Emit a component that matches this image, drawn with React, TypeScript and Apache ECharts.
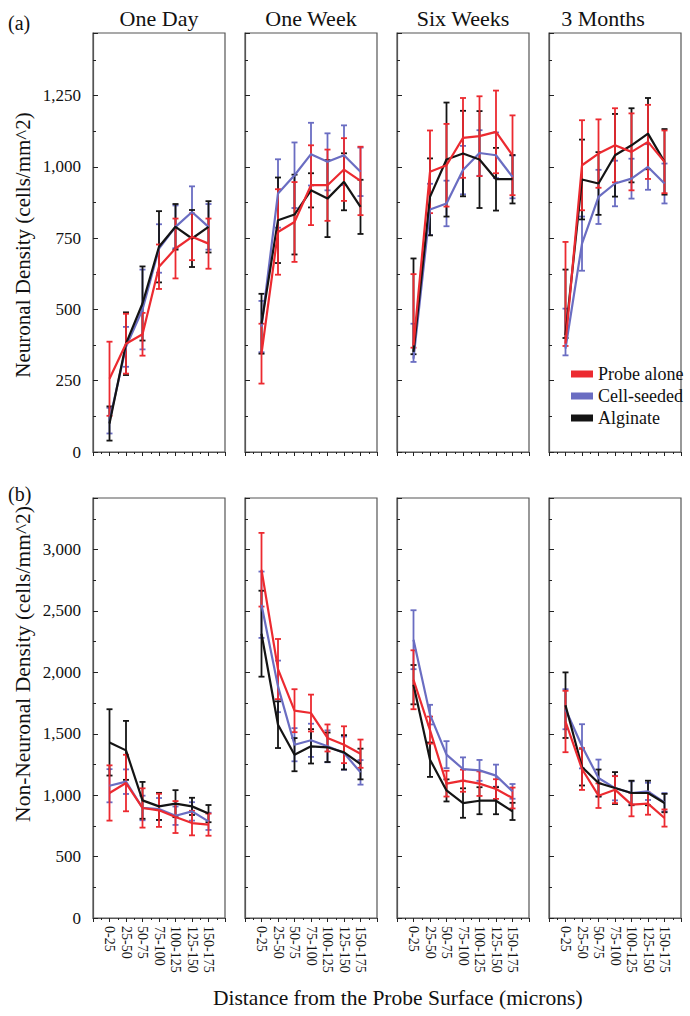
import React, { useEffect, useRef } from "react";
import * as echarts from "echarts";

const categories = ["0-25", "25-50", "50-75", "75-100", "100-125", "125-150", "150-175"];
const panelTitles = ["One Day", "One Week", "Six Weeks", "3 Months"];
const seriesNames = ["Probe alone", "Cell-seeded", "Alginate"];
const seriesColors = ["#ec2a30", "#6a6dc2", "#141414"];

// Error entries: a number is a symmetric error; [down, up] is an asymmetric one.
// (a) Neuronal density: one row per time point
const neuProbe = [
  [257, 380, 413, 650, 714, 755, 731],
  [345, 772, 807, 936, 936, 991, 951],
  [374, 983, 1006, 1102, 1108, 1123, 1041],
  [380, 1006, 1047, 1076, 1053, 1088, 1018],
];
const neuProbeErr: (number | number[])[][] = [
  [130, 105, 75, 78, 105, 82, 88],
  [105, 150, 140, 140, 125, 110, 120],
  [[8, 250], 145, 145, 140, 140, 145, 140],
  [[8, 357], 158, 120, 130, 135, 130, 110],
];
const neuCell = [
  [110, 369, 500, 714, 790, 842, 790],
  [440, 907, 971, 1045, 1018, 1041, 983],
  [328, 851, 872, 989, 1049, 1041, 965],
  [363, 731, 895, 942, 959, 1000, 942],
];
const neuCellErr: (number | number[])[][] = [
  [45, 70, 140, 85, 75, 90, 80],
  [90, 120, 115, 110, 100, 105, 85],
  [[12, 122], 90, 80, 85, 80, 80, 75],
  [[24, 140], 95, 95, 80, 70, 80, 70],
];
const neuAlg = [
  [100, 380, 521, 720, 790, 749, 790],
  [450, 813, 833, 918, 889, 948, 860],
  [351, 895, 1026, 1047, 1026, 957, 957],
  [410, 956, 942, 1041, 1076, 1117, 1018],
];
const neuAlgErr: (number | number[])[][] = [
  [60, 110, 130, 125, 80, 100, 90],
  [105, 150, 140, 60, 135, 100, 95],
  [[8, 328], 135, 200, 150, 170, 110, 85],
  [[10, 230], 140, 110, 145, 130, 125, 115],
];

// (b) Non-neuronal density
const nonProbe = [
  [1018, 1099, 896, 877, 822, 773, 760],
  [2836, 2027, 1688, 1669, 1466, 1411, 1338],
  [1940, 1530, 1094, 1118, 1094, 1050, 977],
  [1600, 1213, 996, 1045, 923, 931, 814],
];
const nonProbeErr: (number | number[])[][] = [
  [225, 230, 160, 135, 130, 100, 90],
  [300, 245, 175, 150, 110, 150, 115],
  [240, 110, 105, 90, 100, 80, 85],
  [250, 170, 100, 110, 95, 90, 70],
];
const nonCell = [
  [1077, 1110, 896, 887, 833, 868, 787],
  [2551, 1886, 1411, 1447, 1398, 1343, 1186],
  [2266, 1656, 1330, 1213, 1202, 1159, 1031],
  [1700, 1398, 1140, 1058, 1018, 1031, 942],
];
const nonCellErr: (number | number[])[][] = [
  [135, 100, 100, 90, 75, 75, 70],
  [270, 210, 135, 135, 130, 135, 100],
  [240, 80, 110, 95, 85, 90, 60],
  [163, 180, 150, 100, 95, 70, 75],
];
const nonAlg = [
  [1430, 1365, 958, 909, 931, 909, 850],
  [2315, 1574, 1330, 1398, 1390, 1349, 1254],
  [1900, 1289, 1039, 936, 955, 955, 868],
  [1733, 1229, 1099, 1058, 1018, 1018, 936],
];
const nonAlgErr: (number | number[])[][] = [
  [270, 240, 150, 110, 110, 70, 70],
  [350, 190, 135, 140, 120, 140, 125],
  [160, 140, 90, 120, 110, 110, 70],
  [267, 150, 110, 130, 100, 100, 75],
];

const rows = [
  { means: [neuProbe, neuCell, neuAlg], errs: [neuProbeErr, neuCellErr, neuAlgErr], max: 1470, interval: 250 },
  { means: [nonProbe, nonCell, nonAlg], errs: [nonProbeErr, nonCellErr, nonAlgErr], max: 3420, interval: 500 },
];

const FONT = "'Liberation Serif', 'Times New Roman', Times, serif";
const panelLefts = [93, 245, 397, 549];
const panelWidth = 132;
const rowTops = [33, 498];
const rowHeights = [419, 420];
const axisColor = "#555";

export default function App() {
  const ref = useRef<HTMLDivElement>(null);
  useEffect(() => {
    if (!ref.current) return;
    const chart = echarts.init(ref.current, null, { renderer: "svg" });
    const grid: any[] = [];
    const xAxis: any[] = [];
    const yAxis: any[] = [];
    const series: any[] = [];
    let idx = 0;
    rows.forEach((row, r) => {
      for (let p = 0; p < 4; p++) {
        grid.push({
          left: panelLefts[p],
          top: rowTops[r],
          width: panelWidth,
          height: rowHeights[r],
          show: true,
          borderColor: axisColor,
          borderWidth: 1.2,
          backgroundColor: "transparent",
        });
        xAxis.push({
          type: "value",
          gridIndex: idx,
          min: 0,
          max: 8,
          interval: 1,
          splitLine: { show: false },
          axisLine: { lineStyle: { color: axisColor, width: 1.2 } },
          axisTick: { show: true, length: 4, lineStyle: { color: "#222" } },
          minorTick: { show: true, splitNumber: 2, length: 2, lineStyle: { color: "#222" } },
          axisLabel: {
            show: r === 1,
            rotate: -90,
            margin: 8,
            fontFamily: FONT,
            fontSize: 14,
            color: "#111",
            formatter: (v: number) => (v >= 1 && v <= 7 ? categories[v - 1] : ""),
          },
        });
        yAxis.push({
          type: "value",
          gridIndex: idx,
          min: 0,
          max: row.max,
          interval: row.interval,
          splitLine: { show: false },
          axisLine: { lineStyle: { color: axisColor, width: 1.2 } },
          axisTick: { show: true, inside: true, length: 5, lineStyle: { color: "#222" } },
          minorTick: { show: true, splitNumber: 2, length: 3, lineStyle: { color: "#222" } },
          axisLabel: {
            show: p === 0,
            showMaxLabel: false,
            margin: 12,
            fontFamily: FONT,
            fontSize: 17,
            color: "#111",
            formatter: (v: number) => v.toLocaleString("en-US"),
          },
        });
        const order = [1, 2, 0];
        order.forEach((s) => {
          const means = row.means[s][p];
          const errs = row.errs[s][p];
          const color = seriesColors[s];
          series.push({
            type: "custom",
            name: seriesNames[s],
            xAxisIndex: idx,
            yAxisIndex: idx,
            data: means.map((m, i) => {
              const e = errs[i];
              const dn = Array.isArray(e) ? e[0] : e;
              const up = Array.isArray(e) ? e[1] : e;
              return [i + 1, m, m - dn, m + up];
            }),
            encode: { x: 0, y: [1, 2, 3] },
            itemStyle: { color },
            renderItem: (_params: any, api: any) => {
              const x = api.value(0);
              const top = api.coord([x, api.value(3)]);
              const bot = api.coord([x, api.value(2)]);
              const st = { stroke: color, lineWidth: 1.8 };
              const w = 3;
              return {
                type: "group",
                children: [
                  { type: "line", shape: { x1: top[0], y1: top[1], x2: bot[0], y2: bot[1] }, style: st },
                  { type: "line", shape: { x1: top[0] - w, y1: top[1], x2: top[0] + w, y2: top[1] }, style: st },
                  { type: "line", shape: { x1: bot[0] - w, y1: bot[1], x2: bot[0] + w, y2: bot[1] }, style: st },
                ],
              };
            },
          });
        });
        order.forEach((s) => {
          const means = row.means[s][p];
          series.push({
            type: "line",
            name: seriesNames[s],
            xAxisIndex: idx,
            yAxisIndex: idx,
            data: means.map((m, i) => [i + 1, m]),
            symbol: "none",
            color: seriesColors[s],
            lineStyle: { color: seriesColors[s], width: 2.2 },
          });
        });
        idx++;
      }
    });

    const graphic: any[] = [];
    const txt = (text: string, x: number, y: number, size: number, align: string, rot = 0) => ({
      type: "text",
      x,
      y,
      rotation: rot,
      style: {
        text,
        fontFamily: FONT,
        fontSize: size,
        fill: "#111",
        textAlign: align,
        textVerticalAlign: "middle",
      },
    });
    panelTitles.forEach((t, p) => {
      const cx = p === 3 ? 603 : panelLefts[p] + panelWidth / 2;
      graphic.push(txt(t, cx, 18, 22, "center"));
    });
    graphic.push(txt("(a)", 8, 23, 20, "left"));
    graphic.push(txt("(b)", 8, 494, 20, "left"));
    graphic.push(txt("Neuronal Density (cells/mm^2)", 23, 245, 21, "center", Math.PI / 2));
    graphic.push(txt("Non-Neuronal Density (cells/mm^2)", 23, 664, 21.5, "center", Math.PI / 2));
    graphic.push(txt("Distance from the Probe Surface (microns)", 213, 998, 21.5, "left"));

    chart.setOption({
      animation: false,
      backgroundColor: "#fff",
      grid,
      xAxis,
      yAxis,
      series,
      graphic,
      legend: {
        data: seriesNames.map((n, i) => ({ name: n, icon: "rect", itemStyle: { color: seriesColors[i] } })),
        orient: "vertical",
        left: 566,
        top: 360,
        itemWidth: 22,
        itemHeight: 7,
        itemGap: 4,
        selectedMode: false,
        textStyle: { fontFamily: FONT, fontSize: 18, color: "#111", lineHeight: 18 },
      },
    });
    return () => chart.dispose();
  }, []);
  return <div ref={ref} style={{ position: "absolute", left: 0, top: 0, width: 690, height: 1016 }} />;
}
